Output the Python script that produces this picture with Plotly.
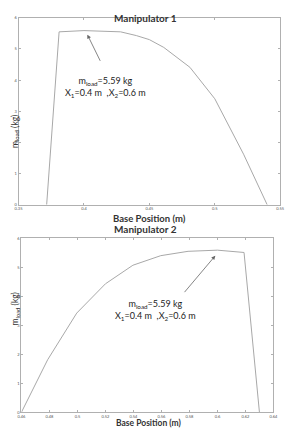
import plotly.graph_objects as go

# Manipulator 1 data
x1 = [0.3715, 0.381, 0.400, 0.428, 0.440, 0.450, 0.461, 0.481, 0.500, 0.522, 0.540]
y1 = [0.0, 5.55, 5.59, 5.55, 5.43, 5.30, 5.05, 4.41, 3.40, 1.62, 0.0]

# Manipulator 2 data
x2 = [0.460, 0.4787, 0.4995, 0.520, 0.5396, 0.5595, 0.579, 0.600, 0.619, 0.630]
y2 = [0.0, 1.81, 3.42, 4.43, 5.07, 5.40, 5.55, 5.59, 5.51, 0.0]

xt1 = [0.35, 0.4, 0.45, 0.5, 0.55]
xt2 = [0.46, 0.48, 0.5, 0.52, 0.54, 0.56, 0.58, 0.6, 0.62, 0.64]
yt = [0, 1, 2, 3, 4, 5, 6]

W, H = 292, 436
LINE = "#a8a8a8"
AX = "#b0b0b0"
TXT = "#222222"
FONT = "Lato"

fig = go.Figure()
fig.add_trace(go.Scatter(x=x1, y=y1, mode="lines", line=dict(color=LINE, width=1),
                         xaxis="x", yaxis="y", showlegend=False))
fig.add_trace(go.Scatter(x=x2, y=y2, mode="lines", line=dict(color=LINE, width=1),
                         xaxis="x2", yaxis="y2", showlegend=False))

axcommon = dict(showline=True, linecolor=AX, linewidth=1, mirror="ticks",
                ticks="inside", ticklen=2, tickcolor=AX, showgrid=False,
                zeroline=False, tickfont=dict(size=4, color="#555555", family=FONT))

fig.update_layout(
    width=W, height=H, margin=dict(l=0, r=0, t=0, b=0),
    paper_bgcolor="white", plot_bgcolor="white",
    font=dict(family=FONT, color=TXT),
    xaxis=dict(domain=[15/W, 285/W], range=[0.35, 0.55], tickvals=xt1,
               ticktext=[str(v) for v in xt1], anchor="y", **axcommon),
    yaxis=dict(domain=[1-204/H, 1-15/H], range=[0, 6], tickvals=yt, anchor="x", **axcommon),
    xaxis2=dict(domain=[18/W, 278/W], range=[0.46, 0.64], tickvals=xt2,
                ticktext=[str(v) for v in xt2], anchor="y2", **axcommon),
    yaxis2=dict(domain=[1-414/H, 1-238/H], range=[0, 6], tickvals=yt, anchor="x2", **axcommon),
)

ann = []
# titles
ann.append(dict(text="<b>Manipulator 1</b>", x=0.5, y=1-7/H, xref="paper", yref="paper",
                showarrow=False, font=dict(size=10, color="#333333")))
ann.append(dict(text="<b>Manipulator 2</b>", x=0.5, y=1-229/H, xref="paper", yref="paper",
                showarrow=False, font=dict(size=10, color="#333333")))
ann.append(dict(text="<b>Base Position (m)</b>", x=150/W, y=1-218/H, xref="paper", yref="paper",
                showarrow=False, font=dict(size=9.5, color="#333333")))
ann.append(dict(text="<b>Base Position (m)</b>", x=150/W, y=1-432/H, xref="paper", yref="paper",
                showarrow=False, font=dict(size=8.5, color="#333333")))
ann.append(dict(text="m<sub>load</sub> (kg)", x=4/W, y=1-110/H, xref="paper", yref="paper",
                showarrow=False, textangle=-90, font=dict(size=8.5, color="#333333")))
ann.append(dict(text="m<sub>load</sub> (kg)", x=4/W, y=1-328/H, xref="paper", yref="paper",
                showarrow=False, textangle=-90, font=dict(size=8.5, color="#333333")))
# in-plot labels
lbl = "m<sub>load</sub>=5.59 kg<br>X<sub>1</sub>=0.4 m  ,X<sub>2</sub>=0.6 m"
ann.append(dict(text=lbl, x=0.4167, y=3.78, xref="x", yref="y", showarrow=False,
                font=dict(size=9, color=TXT)))
ann.append(dict(text=lbl, x=0.556, y=3.54, xref="x2", yref="y2", showarrow=False,
                font=dict(size=9, color=TXT)))
# arrows
ann.append(dict(x=0.4026, y=5.46, ax=0.413, ay=4.57, xref="x", yref="y", axref="x", ayref="y",
                text="", showarrow=True, arrowhead=2, arrowsize=1, arrowwidth=0.8, arrowcolor="#666666"))
ann.append(dict(x=0.5985, y=5.40, ax=0.5756, ay=4.09, xref="x2", yref="y2", axref="x2", ayref="y2",
                text="", showarrow=True, arrowhead=2, arrowsize=1, arrowwidth=0.8, arrowcolor="#666666"))
fig.update_layout(annotations=ann)

fig.write_html("out.html")
